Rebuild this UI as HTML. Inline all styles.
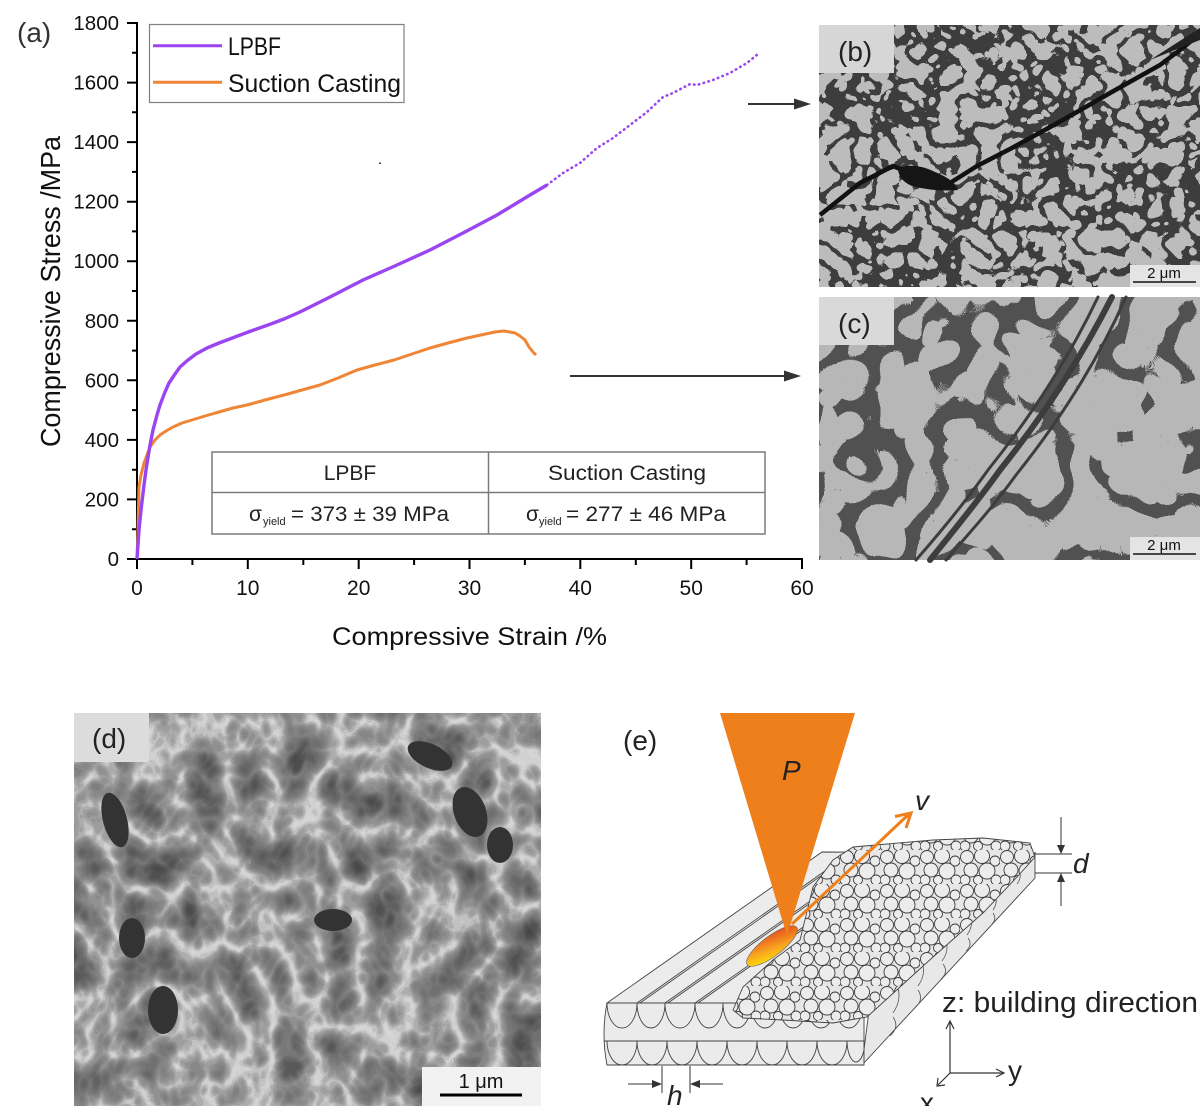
<!DOCTYPE html>
<html><head><meta charset="utf-8"><style>
html,body{margin:0;padding:0;background:#fff;}
svg{display:block;font-family:"Liberation Sans",Arial,sans-serif;}
</style></head><body>
<svg width="1200" height="1106" viewBox="0 0 1200 1106" xmlns="http://www.w3.org/2000/svg">
<defs>
<filter id="fb" filterUnits="userSpaceOnUse" x="819" y="25" width="381" height="262" color-interpolation-filters="sRGB">
 <feTurbulence type="turbulence" baseFrequency="0.048" numOctaves="2" seed="7"/>
 <feColorMatrix type="matrix" values="1 0 0 0 0  1 0 0 0 0  1 0 0 0 0  0 0 0 0 1"/>
 <feComponentTransfer>
  <feFuncR type="discrete" tableValues="0.24 0.24 0.24 0.24 0.24 0.24 0.24 0.24 0.74 0.74 0.74 0.74 0.74 0.74 0.74 0.74 0.74 0.74 0.74 0.74 0.74 0.74 0.74 0.74 0.74 0.74 0.74 0.74 0.74 0.74 0.74 0.74 0.74 0.74 0.74 0.74 0.74 0.74 0.74 0.74"/>
  <feFuncG type="discrete" tableValues="0.24 0.24 0.24 0.24 0.24 0.24 0.24 0.24 0.74 0.74 0.74 0.74 0.74 0.74 0.74 0.74 0.74 0.74 0.74 0.74 0.74 0.74 0.74 0.74 0.74 0.74 0.74 0.74 0.74 0.74 0.74 0.74 0.74 0.74 0.74 0.74 0.74 0.74 0.74 0.74"/>
  <feFuncB type="discrete" tableValues="0.24 0.24 0.24 0.24 0.24 0.24 0.24 0.24 0.74 0.74 0.74 0.74 0.74 0.74 0.74 0.74 0.74 0.74 0.74 0.74 0.74 0.74 0.74 0.74 0.74 0.74 0.74 0.74 0.74 0.74 0.74 0.74 0.74 0.74 0.74 0.74 0.74 0.74 0.74 0.74"/>
 </feComponentTransfer>
</filter>
<filter id="fc" filterUnits="userSpaceOnUse" x="819" y="297" width="381" height="263" color-interpolation-filters="sRGB">
 <feTurbulence type="turbulence" baseFrequency="0.016" numOctaves="2" seed="11"/>
 <feColorMatrix type="matrix" values="1 0 0 0 0  1 0 0 0 0  1 0 0 0 0  0 0 0 0 1"/>
 <feComponentTransfer>
  <feFuncR type="discrete" tableValues="0.32 0.32 0.32 0.32 0.32 0.32 0.32 0.72 0.72 0.72 0.72 0.72 0.72 0.72 0.72 0.72 0.72 0.72 0.72 0.72 0.72 0.72 0.72 0.72 0.72 0.72 0.72 0.72 0.72 0.72 0.72 0.72 0.72 0.72 0.72 0.72 0.72 0.72 0.72 0.72"/>
  <feFuncG type="discrete" tableValues="0.32 0.32 0.32 0.32 0.32 0.32 0.32 0.72 0.72 0.72 0.72 0.72 0.72 0.72 0.72 0.72 0.72 0.72 0.72 0.72 0.72 0.72 0.72 0.72 0.72 0.72 0.72 0.72 0.72 0.72 0.72 0.72 0.72 0.72 0.72 0.72 0.72 0.72 0.72 0.72"/>
  <feFuncB type="discrete" tableValues="0.32 0.32 0.32 0.32 0.32 0.32 0.32 0.72 0.72 0.72 0.72 0.72 0.72 0.72 0.72 0.72 0.72 0.72 0.72 0.72 0.72 0.72 0.72 0.72 0.72 0.72 0.72 0.72 0.72 0.72 0.72 0.72 0.72 0.72 0.72 0.72 0.72 0.72 0.72 0.72"/>
 </feComponentTransfer>
</filter>
<filter id="fd" filterUnits="userSpaceOnUse" x="74" y="713" width="467" height="393" color-interpolation-filters="sRGB">
 <feTurbulence type="turbulence" baseFrequency="0.022 0.018" numOctaves="3" seed="5"/>
 <feColorMatrix type="matrix" values="1 0 0 0 0  1 0 0 0 0  1 0 0 0 0  0 0 0 0 1"/>
 <feComponentTransfer>
  <feFuncR type="discrete" tableValues="0.84 0.82 0.76 0.68 0.62 0.57 0.53 0.5 0.47 0.44 0.41 0.38 0.35 0.32 0.3 0.28 0.26 0.26 0.26 0.26"/>
  <feFuncG type="discrete" tableValues="0.84 0.82 0.76 0.68 0.62 0.57 0.53 0.5 0.47 0.44 0.41 0.38 0.35 0.32 0.3 0.28 0.26 0.26 0.26 0.26"/>
  <feFuncB type="discrete" tableValues="0.84 0.82 0.76 0.68 0.62 0.57 0.53 0.5 0.47 0.44 0.41 0.38 0.35 0.32 0.3 0.28 0.26 0.26 0.26 0.26"/>
 </feComponentTransfer>
</filter>
<pattern id="pw" patternUnits="userSpaceOnUse" width="40" height="34">
 <rect width="40" height="34" fill="#e6e6e6"/>
 <g fill="#ececec" stroke="#3c3c3c" stroke-width="0.9">
  <circle cx="7" cy="7" r="6.5"/><circle cx="22" cy="6" r="7.5"/><circle cx="35" cy="11" r="5"/>
  <circle cx="11" cy="20" r="7"/><circle cx="27" cy="21" r="8"/><circle cx="5" cy="30" r="5"/>
  <circle cx="18" cy="30" r="4.5"/><circle cx="36" cy="30" r="5"/>
 </g>
</pattern>
<linearGradient id="mp" x1="0" y1="1" x2="1" y2="0">
 <stop offset="0" stop-color="#fff200"/><stop offset="0.45" stop-color="#f7a020"/><stop offset="1" stop-color="#e0361c"/>
</linearGradient>
</defs>

<!-- ===== Chart (a) ===== -->
<text x="17" y="42" font-size="28" fill="#333">(a)</text>

<g stroke="#000" stroke-width="2" fill="none">
 <line x1="137" y1="22" x2="137" y2="560"/>
 <line x1="136" y1="559" x2="803" y2="559"/>
 <path d="M127,559H137M127,499.4H137M127,439.9H137M127,380.3H137M127,320.8H137M127,261.2H137M127,201.7H137M127,142.1H137M127,82.6H137M127,23H137"/>
 <path d="M132,529.2H137M132,469.7H137M132,410.1H137M132,350.6H137M132,291H137M132,231.4H137M132,171.9H137M132,112.3H137M132,52.8H137"/>
 <path d="M137,559V569M247.8,559V569M358.7,559V569M469.5,559V569M580.3,559V569M691.2,559V569M802,559V569"/>
 <path d="M192.4,559V565M303.3,559V565M414.1,559V565M524.9,559V565M635.8,559V565M746.6,559V565"/>
</g>
<g font-size="20.5" fill="#111" text-anchor="end">
 <text x="119" y="566">0</text><text x="119" y="506.4">200</text><text x="119" y="446.9">400</text>
 <text x="119" y="387.3">600</text><text x="119" y="327.8">800</text><text x="119" y="268.2">1000</text>
 <text x="119" y="208.7">1200</text><text x="119" y="149.1">1400</text><text x="119" y="89.6">1600</text>
 <text x="119" y="30">1800</text>
</g>
<g font-size="21" fill="#111" text-anchor="middle">
 <text x="137" y="595">0</text><text x="247.8" y="595">10</text><text x="358.7" y="595">20</text>
 <text x="469.5" y="595">30</text><text x="580.3" y="595">40</text><text x="691.2" y="595">50</text><text x="802" y="595">60</text>
</g>
<text x="332" y="645" font-size="25" fill="#111" textLength="275" lengthAdjust="spacingAndGlyphs">Compressive Strain /%</text>
<text transform="translate(60,447) rotate(-90)" x="0" y="0" font-size="28" fill="#111" textLength="311" lengthAdjust="spacingAndGlyphs">Compressive Stress /MPa</text>

<polyline fill="none" stroke="#ef8535" stroke-width="3" stroke-linejoin="round" points="137,559 138,530 139,487 141,475 144,463 150,447 155,440 160,435 166,431 173,427 182,423 192,420 205,416 219,412 233,408 247,405 265,400 284,395 302,390 320,385 338,378 357,370 375,365 394,360 412,354 430,348 448,343 467,338 481,335 495,332 504,331 510,332 515,333 520,336 525,340 529,347 533,352 536,355"/>
<polyline fill="none" stroke="#9a44f2" stroke-width="3.4" stroke-linejoin="round" points="137,559 139,530 141,510 144,485 146,470 150,445 153,430 157,415 160,405 165,392 169,383 175,374 180,367 188,360 196,354 207,348 219,343 235,337 251,331 268,325 284,319 300,312 330,297 363,280 397,265 430,250 463,233 497,215 530,195 547,185"/>
<polyline fill="none" stroke="#9a44f2" stroke-width="2.6" stroke-linecap="round" stroke-dasharray="0.5 4.5" points="547,185 563,173 580,163 597,148 613,138 630,125 647,112 663,97 673,93 690,84 697,85 713,80 730,73 747,63 758,54"/>
<rect x="379" y="162.5" width="2" height="1.5" fill="#444"/>

<rect x="149.5" y="24.5" width="254.5" height="78" fill="#fff" stroke="#808080" stroke-width="1.2"/>
<line x1="153" y1="45.7" x2="222" y2="45.7" stroke="#9a44f2" stroke-width="3"/>
<line x1="153" y1="82.3" x2="222" y2="82.3" stroke="#ef8535" stroke-width="3"/>
<text x="228" y="55" font-size="25" fill="#111" textLength="53" lengthAdjust="spacingAndGlyphs">LPBF</text>
<text x="228" y="92" font-size="25" fill="#111" textLength="173" lengthAdjust="spacingAndGlyphs">Suction Casting</text>

<rect x="212" y="452" width="553" height="82" fill="#fff" stroke="#7a7a7a" stroke-width="1.5"/>
<g stroke="#7a7a7a" stroke-width="1.5">
 <line x1="212" y1="492.5" x2="765" y2="492.5"/>
 <line x1="488.5" y1="452" x2="488.5" y2="534"/>
</g>
<g font-size="21" fill="#222">
 <text x="350" y="480" text-anchor="middle">LPBF</text>
 <text x="627" y="480" text-anchor="middle" textLength="158" lengthAdjust="spacingAndGlyphs">Suction Casting</text>
 <text x="249" y="521">σ</text><text x="263" y="525" font-size="11">yield</text>
 <text x="291" y="521" textLength="158" lengthAdjust="spacingAndGlyphs">= 373 ± 39 MPa</text>
 <text x="526" y="521">σ</text><text x="539" y="525" font-size="11">yield</text>
 <text x="566" y="521" textLength="160" lengthAdjust="spacingAndGlyphs">= 277 ± 46 MPa</text>
</g>

<line x1="748" y1="104" x2="796" y2="104" stroke="#333" stroke-width="2"/>
<polygon points="794,98.5 811,104 794,109.5" fill="#333"/>
<line x1="570" y1="376" x2="786" y2="376" stroke="#333" stroke-width="2"/>
<polygon points="784,370.5 801,376 784,381.5" fill="#333"/>

<!-- ===== (b) micrograph ===== -->
<rect x="819" y="25" width="381" height="262" fill="#888" filter="url(#fb)"/>
<path d="M820,215 L860,183 L893,166 L910,173 L930,178 L950,183 L977,166 L1010,149 L1043,131 L1077,112 L1110,93 L1135,79 L1160,65 L1180,50 L1200,34" fill="none" stroke="#111" stroke-width="4.5" stroke-linejoin="round"/>
<path d="M898,168 Q915,162 935,172 Q955,180 958,190 Q935,192 912,186 Q898,180 898,168Z" fill="#151515"/>
<path d="M1150,60 L1200,28 L1200,40 Z" fill="#222"/>
<rect x="819" y="25" width="75" height="48" fill="#d6d6d6"/>
<text x="838" y="61" font-size="28" fill="#222">(b)</text>
<rect x="1130" y="265" width="70" height="22" fill="#e4e4e4"/>
<line x1="1133" y1="282" x2="1196" y2="282" stroke="#111" stroke-width="1.6"/>
<text x="1164" y="278" font-size="15" fill="#111" text-anchor="middle">2 μm</text>

<!-- ===== (c) micrograph ===== -->
<rect x="819" y="297" width="381" height="263" fill="#888" filter="url(#fc)"/>
<g fill="none" stroke="#3d3d3d" stroke-linecap="round">
 <path d="M1112,297 C1080,360 1040,420 1000,470 C975,505 950,535 930,560" stroke-width="6"/>
 <path d="M1098,297 C1068,360 1028,420 988,470 C963,505 938,535 916,560" stroke-width="3"/>
 <path d="M1126,297 C1096,365 1056,425 1016,475 C991,510 963,540 946,560" stroke-width="3"/>
</g>
<rect x="819" y="297" width="75" height="48" fill="#d9d9d9"/>
<text x="838" y="333" font-size="28" fill="#222">(c)</text>
<rect x="1130" y="537" width="70" height="23" fill="#e4e4e4"/>
<line x1="1133" y1="554" x2="1196" y2="554" stroke="#111" stroke-width="1.6"/>
<text x="1164" y="550" font-size="15" fill="#111" text-anchor="middle">2 μm</text>

<!-- ===== (d) micrograph ===== -->
<rect x="74" y="713" width="467" height="393" fill="#888" filter="url(#fd)"/>
<g fill="#333">
 <ellipse cx="333" cy="920" rx="19" ry="11"/>
 <ellipse cx="430" cy="756" rx="24" ry="12" transform="rotate(25 430 756)"/>
 <ellipse cx="470" cy="812" rx="16" ry="26" transform="rotate(-20 470 812)"/>
 <ellipse cx="500" cy="845" rx="13" ry="18"/>
 <ellipse cx="115" cy="820" rx="12" ry="28" transform="rotate(-15 115 820)"/>
 <ellipse cx="132" cy="938" rx="13" ry="20"/>
 <ellipse cx="163" cy="1010" rx="15" ry="24"/>
</g>
<rect x="74" y="713" width="75" height="49" fill="#dcdcdc"/>
<text x="92" y="748" font-size="28" fill="#222">(d)</text>
<rect x="422" y="1067" width="119" height="39" fill="#f2f2f2"/>
<line x1="440" y1="1095" x2="522" y2="1095" stroke="#000" stroke-width="3"/>
<text x="481" y="1088" font-size="20" fill="#111" text-anchor="middle">1 μm</text>

<!-- ===== (e) schematic ===== -->
<text x="623" y="750" font-size="28" fill="#222">(e)</text>
<polygon points="870,1003 1035,853 1035,878 862,1065" fill="#e8e8e8" stroke="#444" stroke-width="0.9"/>
<g fill="none" stroke="#555" stroke-width="0.8">
 <path d="M895,981 q9,16 -2,32"/><path d="M920,958 q8,14 -2,28"/>
 <path d="M944,936 q7,13 -2,25"/><path d="M969,913 q6,11 -2,22"/>
 <path d="M994,891 q5,10 -1,19"/><path d="M1018,868 q5,8 -1,16"/>
 <path d="M893,1017 q7,10 -3,19"/><path d="M918,990 q6,9 -2,17"/>
 <path d="M943,964 q6,8 -2,15"/><path d="M968,938 q5,7 -2,13"/>
 <path d="M993,913 q4,6 -1,11"/>
</g>
<polygon points="607,1003 822,852 1035,853 870,1003" fill="#ececec" stroke="#444" stroke-width="0.9"/>
<g stroke="#444" stroke-width="0.9">
 <line x1="637" y1="1003" x2="852" y2="852"/><line x1="640" y1="1003" x2="855" y2="852"/>
 <line x1="665" y1="1003" x2="880" y2="852"/><line x1="668" y1="1003" x2="883" y2="852"/>
 <line x1="695" y1="1003" x2="910" y2="852"/><line x1="698" y1="1003" x2="913" y2="852"/>
</g>
<path d="M607,1003 H864 V1065 H607 Q601,1034 607,1003Z" fill="#ebebeb" stroke="#444" stroke-width="0.9"/>
<g fill="none" stroke="#444" stroke-width="0.9">
 <path d="M607,1003 A15 25 0 0 0 637,1003 A14 25 0 0 0 665,1003 A15 25 0 0 0 695,1003 A14 25 0 0 0 723,1003 A14 25 0 0 0 751,1003 A14 25 0 0 0 779,1003 A14 25 0 0 0 807,1003 A14 25 0 0 0 835,1003 A14 25 0 0 0 863,1003"/>
 <line x1="604" y1="1041" x2="864" y2="1041"/>
 <path d="M607,1041 A15 24 0 0 0 637,1041 A15 24 0 0 0 667,1041 A15 24 0 0 0 697,1041 A15 24 0 0 0 727,1041 A15 24 0 0 0 757,1041 A15 24 0 0 0 787,1041 A15 24 0 0 0 817,1041 A15 24 0 0 0 847,1041 A9 22 0 0 0 864,1050"/>
</g>
<polygon points="733,1010 743,987 773,960 800,940 813,887 833,860 853,847 933,840 983,838 1030,843 1035,857 1017,877 983,913 933,957 900,987 867,1017 833,1023 783,1020 743,1018" fill="url(#pw)" stroke="#444" stroke-width="0.9"/>
<ellipse cx="772" cy="946" rx="31" ry="10" transform="rotate(-37 772 946)" fill="url(#mp)" stroke="#666" stroke-width="0.6"/>
<polygon points="720,713 855,713 787,936" fill="#ee7f1a"/>
<line x1="792" y1="924" x2="908" y2="815" stroke="#ee7f1a" stroke-width="3"/>
<polyline points="895,816.5 911,813 906,828" fill="none" stroke="#ee7f1a" stroke-width="3"/>
<text x="782" y="780" font-size="28" font-style="italic" fill="#222">P</text>
<text x="915" y="810" font-size="28" font-style="italic" fill="#222">v</text>
<g stroke="#333" stroke-width="1">
 <line x1="1035" y1="854" x2="1072" y2="854"/><line x1="1035" y1="873" x2="1072" y2="873"/>
 <line x1="1061" y1="817" x2="1061" y2="846"/><line x1="1061" y1="881" x2="1061" y2="906"/>
</g>
<polygon points="1057,845 1065,845 1061,854" fill="#333"/>
<polygon points="1057,882 1065,882 1061,873" fill="#333"/>
<text x="1073" y="873" font-size="28" font-style="italic" fill="#222">d</text>
<g stroke="#333" stroke-width="1">
 <line x1="662" y1="1066" x2="662" y2="1093"/><line x1="690" y1="1066" x2="690" y2="1093"/>
 <line x1="628" y1="1084" x2="653" y2="1084"/><line x1="723" y1="1084" x2="699" y2="1084"/>
</g>
<polygon points="652,1080 652,1088 662,1084" fill="#333"/>
<polygon points="700,1080 700,1088 690,1084" fill="#333"/>
<text x="667" y="1105" font-size="28" font-style="italic" fill="#222">h</text>
<text x="942" y="1012" font-size="29" fill="#222" textLength="256" lengthAdjust="spacingAndGlyphs">z: building direction</text>
<g stroke="#333" stroke-width="1.2" fill="none">
 <line x1="950" y1="1073" x2="950" y2="1022"/><polyline points="946,1029 950,1021 954,1029"/>
 <line x1="950" y1="1073" x2="1003" y2="1073"/><polyline points="996,1069 1004,1073 996,1077"/>
 <line x1="950" y1="1073" x2="938" y2="1085"/><polyline points="938,1078 937,1086 945,1085"/>
</g>
<text x="1008" y="1080" font-size="28" fill="#222">y</text>
<text x="920" y="1112" font-size="28" fill="#222">x</text>
</svg>
</body></html>
